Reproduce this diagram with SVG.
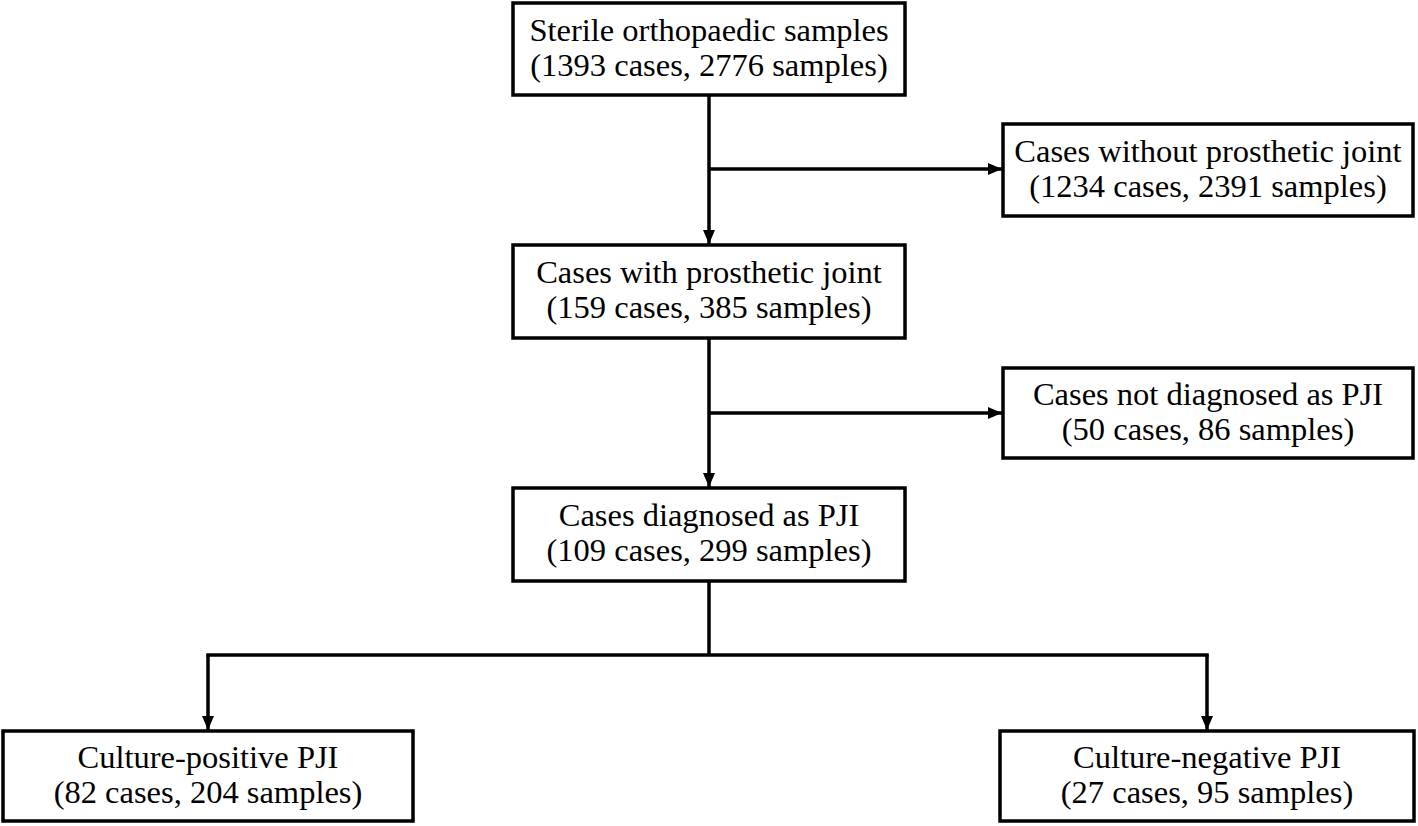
<svg xmlns="http://www.w3.org/2000/svg" width="1418" height="826" viewBox="0 0 1418 826">
<style>
.box{fill:#fff;stroke:#000;stroke-width:3.5}
.t{font-family:"Liberation Serif","Times New Roman",serif;font-size:32.5px;fill:#000;text-anchor:middle}
.c{fill:none;stroke:#000;stroke-width:3.5}
</style>
<defs>
<marker id="arr" markerUnits="userSpaceOnUse" markerWidth="14" markerHeight="12" viewBox="0 0 14 12" refX="14" refY="6" orient="auto">
<path d="M0,0 L14,6 L0,12 Z" fill="#000"/>
</marker>
</defs>
<rect width="1418" height="826" fill="#fff"/>
<g id="connectors">
<line class="c" x1="709" y1="95" x2="709" y2="244" marker-end="url(#arr)"/>
<line class="c" x1="709" y1="169" x2="1002" y2="169" marker-end="url(#arr)"/>
<line class="c" x1="709" y1="338" x2="709" y2="487" marker-end="url(#arr)"/>
<line class="c" x1="709" y1="413" x2="1002" y2="413" marker-end="url(#arr)"/>
<line class="c" x1="709" y1="581" x2="709" y2="655"/>
<line class="c" x1="206.25" y1="655" x2="1208.75" y2="655"/>
<line class="c" x1="208" y1="655" x2="208" y2="730" marker-end="url(#arr)"/>
<line class="c" x1="1207" y1="655" x2="1207" y2="730" marker-end="url(#arr)"/>
</g>
<g id="n1">
<rect class="box" x="513" y="3" width="392" height="92"/>
<text class="t" x="709" y="41">Sterile orthopaedic samples</text>
<text class="t" x="709" y="76">(1393 cases, 2776 samples)</text>
</g>
<g id="n2">
<rect class="box" x="1003" y="124" width="410" height="92"/>
<text class="t" x="1208" y="162">Cases without prosthetic joint</text>
<text class="t" x="1208" y="197">(1234 cases, 2391 samples)</text>
</g>
<g id="n3">
<rect class="box" x="513" y="245" width="392" height="93"/>
<text class="t" x="709" y="283">Cases with prosthetic joint</text>
<text class="t" x="709" y="318">(159 cases, 385 samples)</text>
</g>
<g id="n4">
<rect class="box" x="1003" y="368" width="410" height="90"/>
<text class="t" x="1208" y="405">Cases not diagnosed as PJI</text>
<text class="t" x="1208" y="440">(50 cases, 86 samples)</text>
</g>
<g id="n5">
<rect class="box" x="513" y="488" width="392" height="93"/>
<text class="t" x="709" y="526">Cases diagnosed as PJI</text>
<text class="t" x="709" y="561">(109 cases, 299 samples)</text>
</g>
<g id="n6">
<rect class="box" x="3" y="731" width="410" height="90"/>
<text class="t" x="208" y="768">Culture-positive PJI</text>
<text class="t" x="208" y="803">(82 cases, 204 samples)</text>
</g>
<g id="n7">
<rect class="box" x="1000" y="731" width="414" height="90"/>
<text class="t" x="1207" y="768">Culture-negative PJI</text>
<text class="t" x="1207" y="803">(27 cases, 95 samples)</text>
</g>
</svg>
